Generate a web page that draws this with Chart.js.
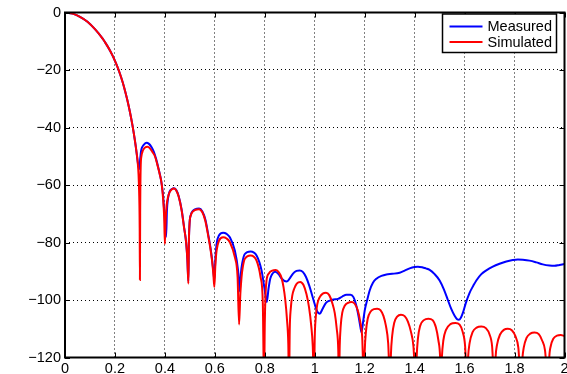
<!DOCTYPE html>
<html>
<head>
<meta charset="utf-8">
<script src="https://cdn.jsdelivr.net/npm/chart.js@4.4.1/dist/chart.umd.min.js"></script>
<style>
    html, body { margin: 0; padding: 0; background: #fff; }
    #wrap { width: 567px; height: 374px; }
</style>
</head>
<body>
<div id="wrap"><canvas id="patternChart" width="567" height="374"></canvas></div>
<script>
const xTicks = [0, 0.2, 0.4, 0.6, 0.8, 1, 1.2, 1.4, 1.6, 1.8, 2];
const xTickLabels = ['0', '0.2', '0.4', '0.6', '0.8', '1', '1.2', '1.4', '1.6', '1.8', '2'];
const yTicks = [-120, -100, -80, -60, -40, -20, 0];
const yTickLabels = ['\u2212120', '\u2212100', '\u221280', '\u221260', '\u221240', '\u221220', '0'];

const seriesNames = ['Measured', 'Simulated'];

const measuredX = [
    0, 0.03, 0.06, 0.09, 0.12, 0.15, 0.16, 0.17, 0.18, 0.19, 0.2, 0.21, 0.22, 0.23, 0.24, 0.25, 0.26, 0.27, 0.28, 0.287, 0.292, 0.297,
    0.301, 0.305, 0.312, 0.32, 0.327, 0.335, 0.345, 0.355, 0.365, 0.375, 0.385, 0.392, 0.398, 0.405,
    0.408, 0.412, 0.418, 0.428, 0.436, 0.445, 0.455, 0.467, 0.477, 0.485, 0.49, 0.494,
    0.496, 0.499, 0.504, 0.511, 0.52, 0.537, 0.55, 0.562, 0.573, 0.582, 0.589, 0.594, 0.598,
    0.602, 0.607, 0.617, 0.633, 0.647, 0.66, 0.68, 0.693, 0.7,
    0.704, 0.71, 0.72, 0.743, 0.767, 0.787, 0.8, 0.808,
    0.815, 0.822, 0.832, 0.842, 0.855, 0.868, 0.887, 0.9, 0.913, 0.927, 0.94, 0.953, 0.965, 0.978, 0.99,
    1.0, 1.01, 1.02, 1.03, 1.045, 1.06, 1.075, 1.093, 1.11, 1.127, 1.143, 1.155, 1.165, 1.175, 1.183, 1.187,
    1.193, 1.2, 1.21, 1.22, 1.233, 1.247, 1.267, 1.287, 1.31, 1.34, 1.36, 1.38, 1.4, 1.413, 1.43, 1.445,
    1.46, 1.48, 1.5, 1.517, 1.533, 1.547, 1.56, 1.57, 1.577, 1.585, 1.593, 1.605, 1.62, 1.635, 1.647,
    1.667, 1.687, 1.713, 1.74, 1.767, 1.793, 1.813, 1.833, 1.86, 1.887, 1.913, 1.94, 1.96, 1.98, 2.0
];
const measuredDb = [
    0, -0.4, -1.5, -3.2, -5.8, -9, -10.3, -11.7, -13.2, -14.9, -16.8, -18.9, -21.3, -24, -27.1, -30.6, -34.6, -39.2, -44.6, -49, -52.5, -54.5,
    -51, -48, -46.4, -45.6, -45.3, -45.6, -46.6, -48.3, -51, -54.5, -58.5, -63, -70, -78,
    -69, -65, -62.5, -61.4, -61.1, -61.7, -63.8, -68.6, -74.8, -80, -86, -93.5,
    -80, -73, -70.3, -69.1, -68.5, -68.2, -69.2, -72, -77, -81.5, -86, -90, -93,
    -86, -80.5, -77.5, -76.6, -77, -78.2, -82.8, -89.7, -97,
    -91, -87, -84, -83.1, -84.5, -89.7, -96.7, -100.7,
    -96, -92.5, -90.7, -90.2, -91, -92.6, -93.6, -92.5, -90.8, -89.9, -89.7, -90.3, -92, -95, -98.5,
    -101.5, -104, -104.8, -103.3, -101, -100.2, -99.8, -99.6, -98.8, -98.2, -98.2, -99, -101.5, -105.5, -109.5, -111.2,
    -108, -103.7, -100, -96.7, -94, -92.6, -91.6, -91.1, -90.9, -90.5, -89.8, -89, -88.5, -88.4, -88.6, -89,
    -89.5, -91, -93.2, -96.3, -100, -103.2, -105.5, -106.7, -106.9, -106.2, -104.5, -101, -97.5, -95, -93.2,
    -91, -89.7, -88.4, -87.4, -86.6, -86.1, -85.9, -86, -86.3, -86.9, -87.6, -88, -88.1, -87.8, -87.5
];

const simulatedX = [
    0, 0.03, 0.06, 0.09, 0.12, 0.15, 0.16, 0.17, 0.18, 0.19, 0.2, 0.21, 0.22, 0.23, 0.24, 0.25, 0.26, 0.27, 0.28, 0.287, 0.292, 0.296, 0.299, 0.3,
    0.301, 0.303, 0.306, 0.312, 0.32, 0.33, 0.34, 0.35, 0.36, 0.37, 0.38, 0.387, 0.393, 0.397, 0.4,
    0.403, 0.407, 0.413, 0.42, 0.428, 0.436, 0.445, 0.455, 0.467, 0.477, 0.485, 0.49, 0.494,
    0.496, 0.499, 0.504, 0.511, 0.52, 0.537, 0.55, 0.562, 0.573, 0.582, 0.589, 0.594, 0.598,
    0.602, 0.607, 0.617, 0.633, 0.647, 0.66, 0.68, 0.691, 0.697,
    0.702, 0.707, 0.712, 0.72, 0.743, 0.767, 0.783, 0.792, 0.797,
    0.8, 0.803, 0.807, 0.817, 0.83, 0.844, 0.857, 0.867, 0.875, 0.882, 0.889, 0.894, 0.897,
    0.9, 0.904, 0.91, 0.918, 0.928, 0.942, 0.955, 0.967, 0.977, 0.986, 0.992, 0.997,
    1.0, 1.004, 1.01, 1.02, 1.032, 1.045, 1.058, 1.07, 1.08, 1.088, 1.094, 1.097,
    1.1, 1.104, 1.11, 1.12, 1.133, 1.147, 1.16, 1.172, 1.182, 1.19, 1.197,
    1.2, 1.205, 1.212, 1.224, 1.237, 1.25, 1.263, 1.275, 1.285, 1.294, 1.302,
    1.305, 1.31, 1.318, 1.33, 1.345, 1.36, 1.373, 1.385, 1.395, 1.405,
    1.408, 1.413, 1.422, 1.437, 1.455, 1.472, 1.485, 1.495, 1.502, 1.505,
    1.509, 1.515, 1.525, 1.543, 1.563, 1.58, 1.592, 1.602, 1.61,
    1.614, 1.62, 1.632, 1.648, 1.667, 1.685, 1.7, 1.71, 1.72,
    1.724, 1.73, 1.742, 1.757, 1.773, 1.79, 1.803, 1.815, 1.827,
    1.831, 1.837, 1.848, 1.863, 1.88, 1.897, 1.91, 1.922, 1.935,
    1.939, 1.945, 1.955, 1.97, 1.985, 2.0
];
const simulatedDb = [
    0, -0.4, -1.5, -3.2, -5.8, -9, -10.3, -11.7, -13.2, -14.9, -16.8, -18.9, -21.3, -24, -27.1, -30.6, -34.6, -39.2, -44.6, -49, -53, -60, -75, -93,
    -70, -54, -50, -48, -47, -46.7, -47.2, -48.5, -50, -53, -56.5, -59.6, -65, -71, -80.5,
    -72, -67, -64, -62.3, -61.5, -61.2, -61.8, -64, -68.8, -75, -80, -86, -94.3,
    -80, -73, -70.5, -69.3, -68.7, -68.4, -69.5, -72.5, -77.5, -82, -86.5, -91, -95.5,
    -88, -82.8, -79.3, -78.2, -78.6, -79.9, -85.1, -92, -108.5,
    -98, -92, -88.5, -85.7, -84.5, -86.3, -92, -101, -130,
    -108, -98, -93.2, -90.7, -89.8, -89.6, -90.5, -92.3, -95.5, -100, -107, -115, -130,
    -110, -103, -98.5, -96, -94.3, -93.7, -94.8, -98, -102.5, -109, -116, -130,
    -113, -106, -101.5, -99, -97.8, -97.5, -98.3, -101, -104.5, -110, -117, -130,
    -116, -109, -104.5, -102, -101, -100.7, -101.3, -103.5, -107.5, -113, -130,
    -118, -111, -106.5, -104, -103.2, -103, -103.5, -105.5, -109, -115, -130,
    -119, -112.5, -108, -105.8, -105.1, -105.6, -107.5, -111, -116, -130,
    -120, -113.5, -109, -107, -106.5, -107, -109.5, -114, -120, -130,
    -120, -114, -110.5, -108.4, -108, -108.6, -111, -116, -130,
    -120, -115, -111.2, -109.6, -109.2, -109.8, -112, -116, -130,
    -120, -115.5, -112, -110.4, -110, -110.6, -112.5, -116.5, -130,
    -121, -116.5, -113.2, -111.7, -111.3, -111.9, -114, -117.5, -130,
    -120, -116, -113.5, -112.4, -112.2, -112.5
];

const FONT = '"Liberation Sans", Arial, Helvetica, sans-serif';
const FONT_SIZE = 14.5;

const toPoints = (xs, ys) => xs.map((x, i) => ({ x, y: ys[i] }));

const axesFrame = {
    id: 'axesFrame',
    afterDraw(chart) {
        const { ctx, chartArea: area, scales } = chart;
        ctx.save();
        ctx.strokeStyle = '#000';

        // inward tick marks on all four sides
        ctx.lineWidth = 1;
        ctx.beginPath();
        xTicks.forEach((v) => {
            const px = Math.round(scales.x.getPixelForValue(v)) + 0.5;
            ctx.moveTo(px, area.bottom);
            ctx.lineTo(px, area.bottom - 5);
            ctx.moveTo(px, area.top);
            ctx.lineTo(px, area.top + 5);
        });
        yTicks.forEach((v) => {
            const py = Math.round(scales.y.getPixelForValue(v)) + 0.5;
            ctx.moveTo(area.left, py);
            ctx.lineTo(area.left + 5, py);
            ctx.moveTo(area.right, py);
            ctx.lineTo(area.right - 5, py);
        });
        ctx.stroke();

        ctx.lineWidth = 2;
        ctx.strokeRect(area.left, area.top, area.right - area.left, area.bottom - area.top);

        // legend box, top right inside the axes
        const boxW = 114;
        const boxH = 38.5;
        const boxX = area.right - 8 - boxW;
        const boxY = area.top + 1.5;
        ctx.fillStyle = '#fff';
        ctx.fillRect(boxX, boxY, boxW, boxH);
        ctx.lineWidth = 1.5;
        ctx.strokeRect(boxX, boxY, boxW, boxH);

        ctx.font = FONT_SIZE + 'px ' + FONT;
        ctx.textBaseline = 'middle';
        ctx.textAlign = 'left';
        chart.data.datasets.forEach((ds, i) => {
            const rowY = boxY + 12.5 + i * 15.6;
            ctx.strokeStyle = ds.borderColor;
            ctx.lineWidth = 2;
            ctx.beginPath();
            ctx.moveTo(boxX + 7, rowY);
            ctx.lineTo(boxX + 40, rowY);
            ctx.stroke();
            ctx.fillStyle = '#000';
            ctx.fillText(ds.label, boxX + 45, rowY + 0.5);
        });
        ctx.restore();
    },
};

const canvas = document.getElementById('patternChart');

new Chart(canvas, {
    type: 'line',
    data: {
        datasets: [
            {
                label: seriesNames[0],
                data: toPoints(measuredX, measuredDb),
                borderColor: '#0000ff',
                borderWidth: 2,
                pointRadius: 0,
                cubicInterpolationMode: 'monotone',
                fill: false,
                order: 1,
            },
            {
                label: seriesNames[1],
                data: toPoints(simulatedX, simulatedDb),
                borderColor: '#ff0000',
                borderWidth: 2,
                pointRadius: 0,
                cubicInterpolationMode: 'monotone',
                fill: false,
                order: 0,
            },
        ],
    },
    options: {
        responsive: false,
        animation: false,
        devicePixelRatio: 1,
        layout: {
            padding: { top: 12.5, right: 2.5, left: 0, bottom: 0 },
        },
        plugins: {
            legend: { display: false },
            tooltip: { enabled: false },
        },
        scales: {
            x: {
                type: 'linear',
                min: 0,
                max: 2,
                afterBuildTicks: (scale) => {
                    scale.ticks = xTicks.map((value) => ({ value }));
                },
                afterFit: (scale) => {
                    scale.height = 16.5;
                    scale.paddingLeft = 0;
                    scale.paddingRight = 0;
                },
                ticks: {
                    autoSkip: false,
                    maxRotation: 0,
                    padding: 3,
                    color: '#000',
                    font: { family: FONT, size: FONT_SIZE },
                    callback: (value, index) => xTickLabels[index],
                },
                grid: {
                    color: '#000',
                    lineWidth: 1,
                    drawTicks: false,
                },
                border: { display: false, dash: [1, 3] },
            },
            y: {
                type: 'linear',
                min: -120,
                max: 0,
                afterBuildTicks: (scale) => {
                    scale.ticks = yTicks.map((value) => ({ value }));
                },
                afterFit: (scale) => {
                    scale.width = 65;
                    scale.paddingTop = 0;
                    scale.paddingBottom = 0;
                },
                ticks: {
                    autoSkip: false,
                    padding: 4,
                    color: '#000',
                    font: { family: FONT, size: FONT_SIZE },
                    callback: (value, index) => yTickLabels[index],
                },
                grid: {
                    color: '#000',
                    lineWidth: 1,
                    drawTicks: false,
                },
                border: { display: false, dash: [1, 3] },
            },
        },
    },
    plugins: [axesFrame],
});
</script>
</body>
</html>
